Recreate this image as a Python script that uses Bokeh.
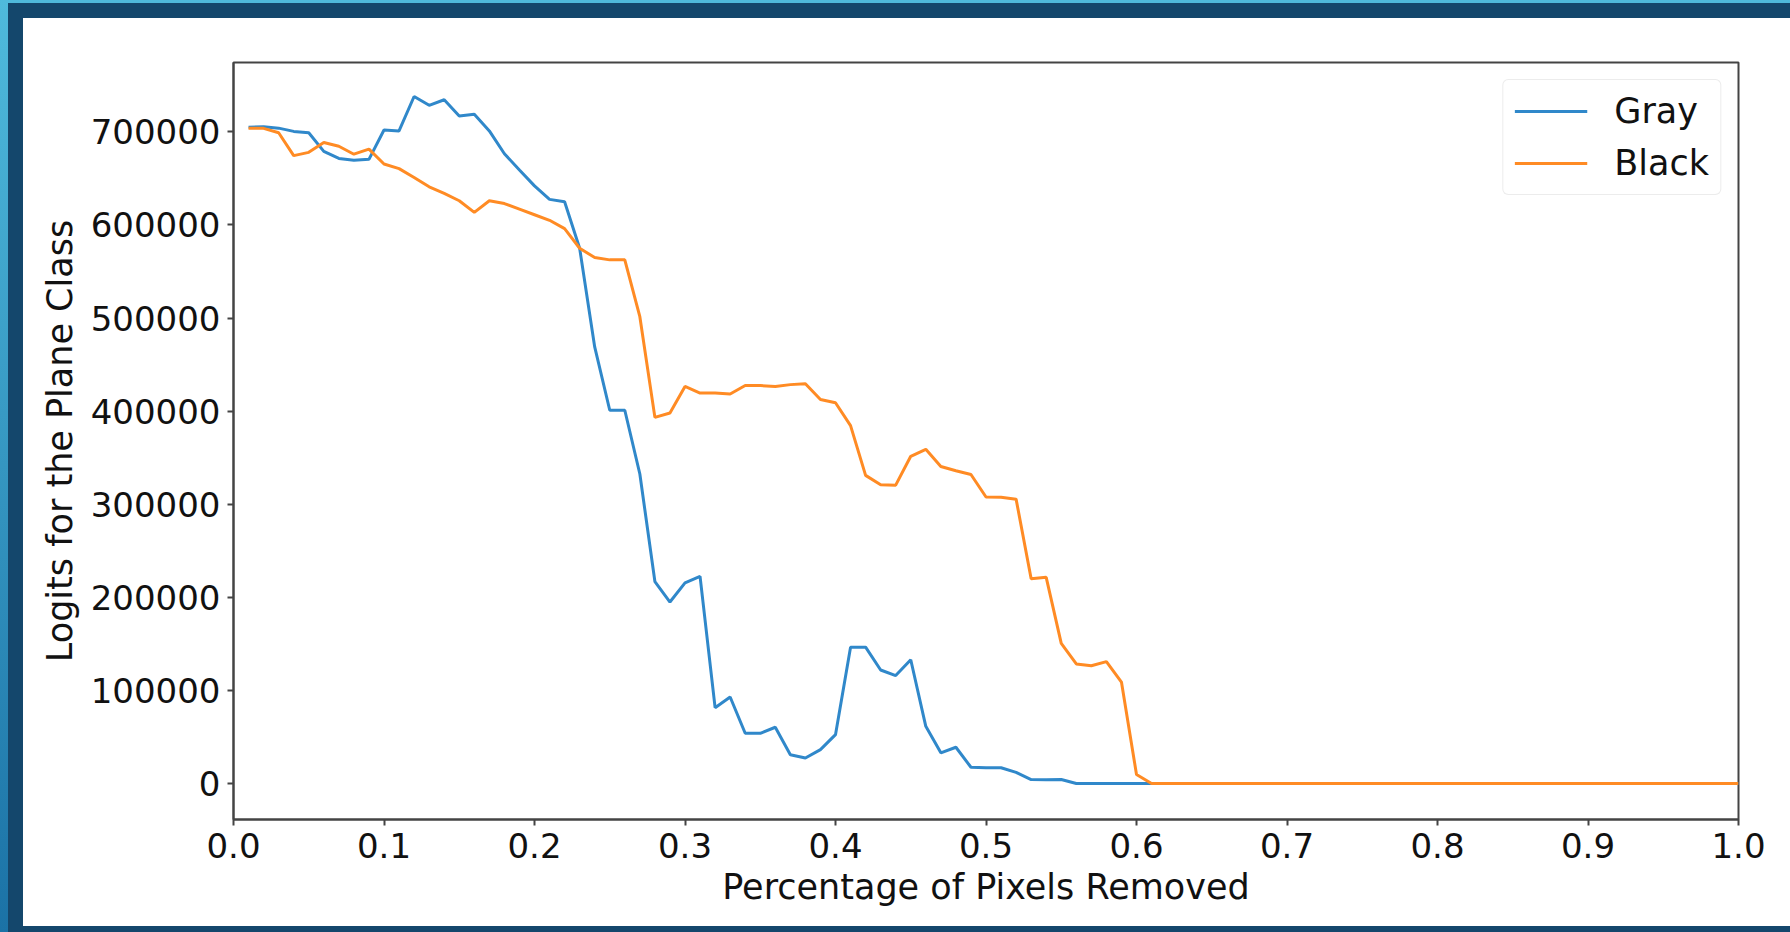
from bokeh.plotting import figure
from bokeh.models import (Range1d, FixedTicker, NumeralTickFormatter,
                          GlobalInlineStyleSheet)
from bokeh.embed import file_html
from bokeh.resources import INLINE

# ---------------- data ----------------
pct_removed = [round(0.01 * k, 2) for k in range(1, 101)]

gray_logits = [
    705000, 705500, 704000, 700500, 699000, 679000, 671500, 669500, 670500, 702000,
    701000, 738000, 728500, 734500, 717000, 719000, 701000, 676500, 659000, 642000,
    627500, 625000, 575000, 469000, 401000, 401000, 332500, 217000, 195000, 215500,
    222500, 81500, 93000, 54000, 54000, 60500, 31000, 27500, 36500, 52500,
    146500, 146500, 122000, 116000, 133000, 61500, 33000, 39000, 17500, 17000,
    17000, 12000, 4300, 4200, 4300, 0, 0, 0, 0, 0,
    0, 0, 0, 0, 0, 0, 0, 0, 0, 0,
    0, 0, 0, 0, 0, 0, 0, 0, 0, 0,
    0, 0, 0, 0, 0, 0, 0, 0, 0, 0,
    0, 0, 0, 0, 0, 0, 0, 0, 0, 0,
]

black_logits = [
    704000, 703800, 699000, 674500, 678000, 688500, 684500, 676000, 681500, 665500,
    660500, 651000, 641000, 634000, 626000, 613500, 626000, 623000, 617000, 611000,
    605000, 596000, 575000, 565000, 562500, 562500, 501500, 393300, 398000, 426500,
    419500, 419500, 418500, 427500, 427500, 426500, 428500, 429500, 412500, 409000,
    384500, 331000, 321000, 320500, 351500, 359000, 340500, 336000, 332000, 307800,
    307500, 305500, 220000, 221500, 150500, 128500, 126500, 131000, 109000, 9800,
    0, 0, 0, 0, 0, 0, 0, 0, 0, 0,
    0, 0, 0, 0, 0, 0, 0, 0, 0, 0,
    0, 0, 0, 0, 0, 0, 0, 0, 0, 0,
    0, 0, 0, 0, 0, 0, 0, 0, 0, 0,
]

series_names = ["Gray", "Black"]
x_ticks = [0.0, 0.1, 0.2, 0.3, 0.4, 0.5, 0.6, 0.7, 0.8, 0.9, 1.0]
y_ticks = [0, 100000, 200000, 300000, 400000, 500000, 600000, 700000]

x_label = "Percentage of Pixels Removed"
y_label = "Logits for the Plane Class"

# ---------------- styling ----------------
NAVY = "#14476c"
SKY_TOP = "#4fbadc"
SKY_BOT = "#1b72a6"
SPINE = "#444444"
FONT = "DejaVu Sans"

# page-frame background (same coordinates for page and figure host)
BG = (
    f"linear-gradient(to bottom, {SKY_TOP}, {SKY_BOT}) 0px 0px / 8px 932px no-repeat, "
    f"linear-gradient({SKY_TOP}, {SKY_TOP}) 0px 0px / 1790px 3px no-repeat, "
    f"linear-gradient({NAVY}, {NAVY}) 0px 0px / 23px 932px no-repeat, "
    f"linear-gradient({NAVY}, {NAVY}) 0px 0px / 1790px 18px no-repeat, "
    f"linear-gradient({NAVY}, {NAVY}) 0px 926px / 1790px 6px no-repeat, "
    "#ffffff"
)

p = figure(
    width=1774, height=916,
    output_backend="svg", toolbar_location=None,
    x_range=Range1d(0, 1), y_range=Range1d(-38600, 774500),
    min_border_left=233, min_border_right=36,
    min_border_top=62, min_border_bottom=97,
)

p.border_fill_color = None
p.background_fill_color = "white"
p.styles = {"background": BG}

page_css = f"""
html {{ background: {BG}; }}
body {{ background: transparent; }}
"""
p.stylesheets = [GlobalInlineStyleSheet(css=page_css)]

p.outline_line_color = SPINE
p.outline_line_width = 2

p.xgrid.visible = False
p.ygrid.visible = False

p.xaxis.ticker = FixedTicker(ticks=x_ticks, minor_ticks=[])
p.yaxis.ticker = FixedTicker(ticks=y_ticks, minor_ticks=[])
p.xaxis.formatter = NumeralTickFormatter(format="0.0")
p.yaxis.formatter = NumeralTickFormatter(format="0")

for ax in (p.xaxis, p.yaxis):
    ax.axis_line_color = SPINE
    ax.axis_line_width = 2
    ax.major_tick_line_color = SPINE
    ax.major_tick_line_width = 2
    ax.major_tick_out = 6
    ax.major_tick_in = 0
    ax.minor_tick_line_color = None
    ax.major_label_text_font = FONT
    ax.major_label_text_font_size = "34px"
    ax.major_label_text_color = "#111111"
    ax.axis_label_text_font = FONT
    ax.axis_label_text_font_size = "35px"
    ax.axis_label_text_font_style = "normal"
    ax.axis_label_text_color = "#111111"

p.xaxis.axis_label = x_label
p.yaxis.axis_label = y_label
p.xaxis.major_label_standoff = 7
p.xaxis.axis_label_standoff = 6
p.yaxis.major_label_standoff = 7
p.yaxis.axis_label_standoff = 8

colors = ["#3088ca", "#ff8b24"]
for vals, name, col in zip([gray_logits, black_logits], series_names, colors):
    p.line(pct_removed, vals, line_color=col, line_width=3, legend_label=name)

lg = p.legend[0]
lg.location = "top_right"
lg.margin = 17
lg.padding = 11
lg.spacing = 12
lg.label_standoff = 27
lg.glyph_width = 73
lg.glyph_height = 40
lg.label_height = 40
lg.label_text_font = FONT
lg.label_text_font_size = "35px"
lg.label_text_color = "#111111"
lg.border_line_color = "#d9d9d9"
lg.border_line_width = 1.5
lg.background_fill_color = "white"
lg.background_fill_alpha = 1.0
if "border_radius" in lg.properties():
    lg.border_radius = 6

open("out.html", "w").write(file_html(p, INLINE))
